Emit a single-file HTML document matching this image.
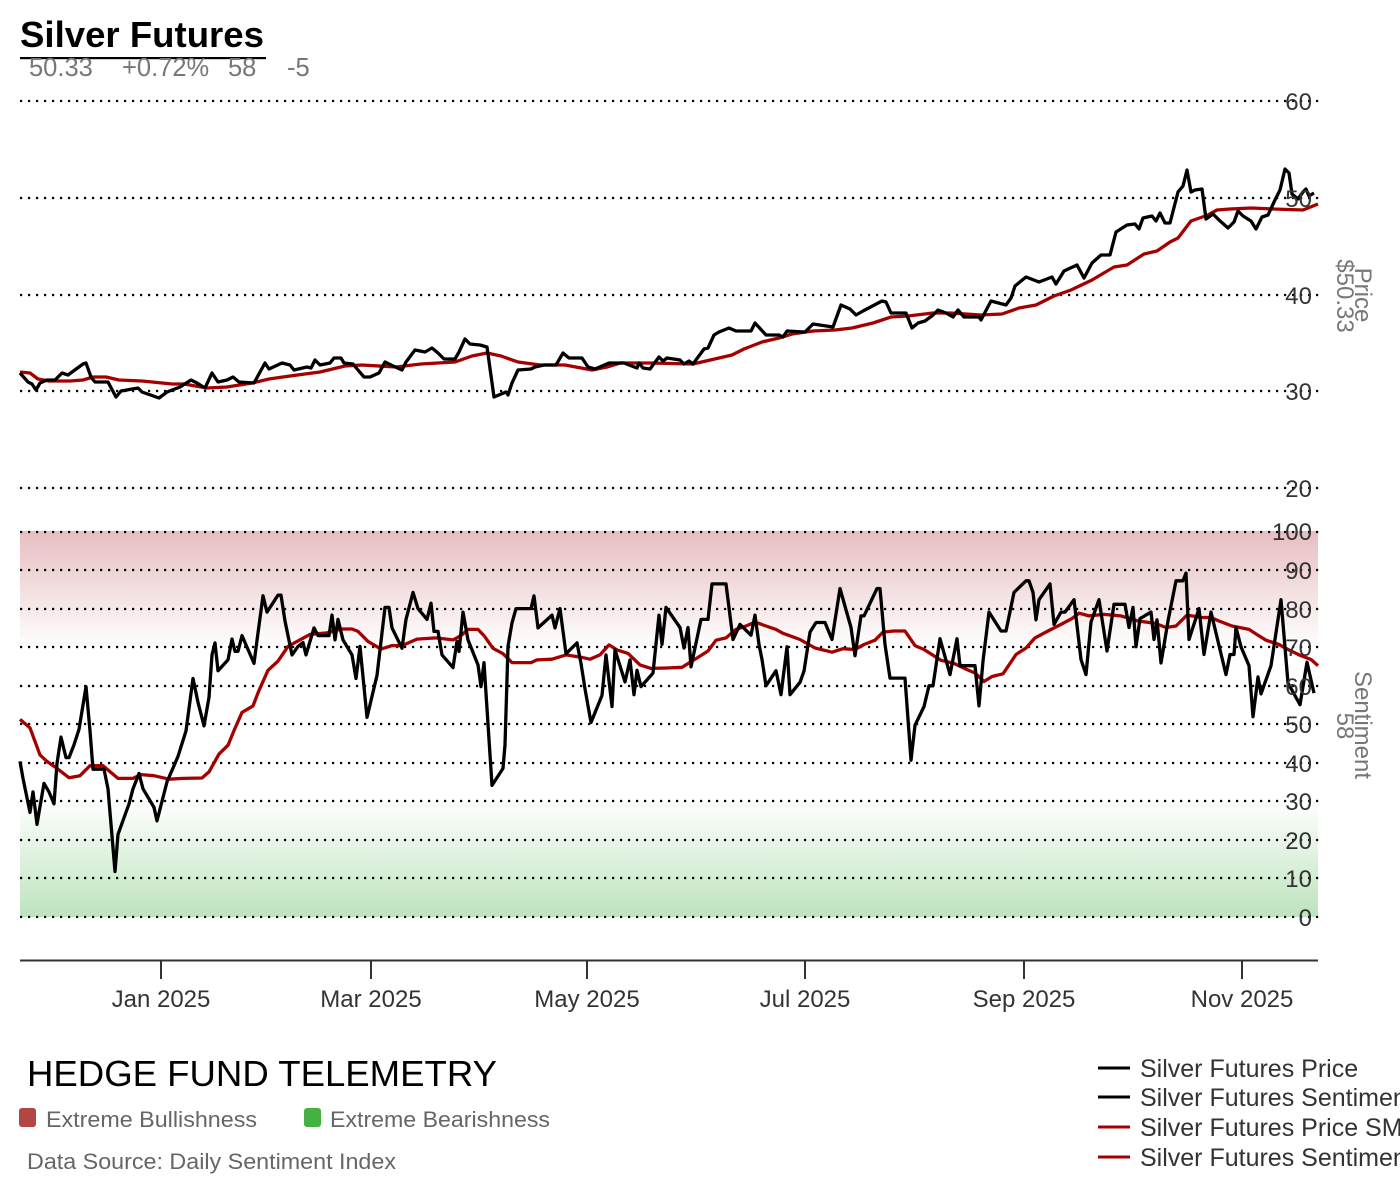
<!DOCTYPE html>
<html><head><meta charset="utf-8"><style>
html,body{margin:0;padding:0;background:#fff;}
svg{display:block;font-family:"Liberation Sans",Arial,sans-serif;}
</style></head><body>
<svg width="1400" height="1200" viewBox="0 0 1400 1200" xmlns="http://www.w3.org/2000/svg">
<defs>
<linearGradient id="gr" x1="0" y1="0" x2="0" y2="1">
<stop offset="0" stop-color="#e6bec0"/><stop offset="1" stop-color="#ffffff"/>
</linearGradient>
<linearGradient id="gg" x1="0" y1="0" x2="0" y2="1">
<stop offset="0" stop-color="#ffffff"/><stop offset="1" stop-color="#bde3bc"/>
</linearGradient>
</defs>
<rect width="1400" height="1200" fill="#fff"/>
<!-- title -->
<text x="20" y="47" font-size="36" font-weight="bold" fill="#000" textLength="244" lengthAdjust="spacingAndGlyphs">Silver Futures</text>
<rect x="20" y="57" width="246" height="2.2" fill="#000"/>
<g font-size="25.5" fill="#777">
<text x="29" y="76">50.33</text>
<text x="122" y="76">+0.72%</text>
<text x="228" y="76">58</text>
<text x="287" y="76">-5</text>
</g>
<!-- bands -->
<rect x="20" y="531" width="1298" height="117" fill="url(#gr)"/>
<rect x="20" y="801" width="1298" height="116" fill="url(#gg)"/>
<!-- gridlines -->
<g stroke="#000" stroke-width="2.2" stroke-dasharray="2.2 5.8">
<line x1="20" y1="101" x2="1320" y2="101"/>
<line x1="20" y1="198" x2="1320" y2="198"/>
<line x1="20" y1="295" x2="1320" y2="295"/>
<line x1="20" y1="391" x2="1320" y2="391"/>
<line x1="20" y1="488" x2="1320" y2="488"/>
<line x1="20" y1="532" x2="1320" y2="532"/>
<line x1="20" y1="570" x2="1320" y2="570"/>
<line x1="20" y1="609" x2="1320" y2="609"/>
<line x1="20" y1="647" x2="1320" y2="647"/>
<line x1="20" y1="686" x2="1320" y2="686"/>
<line x1="20" y1="724" x2="1320" y2="724"/>
<line x1="20" y1="763" x2="1320" y2="763"/>
<line x1="20" y1="801" x2="1320" y2="801"/>
<line x1="20" y1="840" x2="1320" y2="840"/>
<line x1="20" y1="878" x2="1320" y2="878"/>
<line x1="20" y1="917" x2="1320" y2="917"/>
</g>
<!-- price series -->
<polyline fill="none" stroke="#a50000" stroke-width="3.3" stroke-linejoin="round" points="20,372 30,373 38,379 49,381 70,381 83,380 93,377 106,377 119,380 142,381 172,384 184,384 207,388 227,387 252,383 269,379 290,376 320,372 345,366 362,365 396,367 421,364 455,362 472,356 487,353 501,356 518,362 540,365 565,365 592,370 607,367 620,363 650,363 693,364 706,361 719,358 732,355 744,349 762,342 779,338 792,334 813,331 835,330 852,328 873,323 891,317 908,316 933,313 951,313 981,315 1002,314 1019,308 1036,305 1054,296 1071,290 1092,280 1114,267 1127,265 1144,254 1157,251 1170,242 1178,238 1191,221 1208,215 1217,210 1230,209 1251,208 1273,209 1303,210 1318,204"/>
<polyline fill="none" stroke="#000" stroke-width="3.3" stroke-linejoin="round" points="20,373 28,382 32,384 36,390 40,383 47,380 55,380 62,373 68,375 83,364 86,363 91,377 95,382 108,382 116,397 121,391 138,388 142,392 159,398 167,392 180,387 191,380 197,383 205,388 212,373 218,382 227,380 233,377 239,382 254,383 265,363 269,369 282,363 290,365 294,370 307,367 311,368 315,360 320,365 330,363 334,358 341,358 344,363 353,364 358,370 364,377 370,377 379,373 385,362 391,365 402,370 406,362 415,350 425,352 432,348 438,353 444,359 455,359 459,352 465,339 470,344 480,345 487,347 494,397 506,392 508,395 512,383 518,370 531,369 535,367 544,365 556,365 563,353 569,358 582,358 588,367 595,369 609,363 616,363 624,363 637,368 639,363 643,368 650,369 659,357 663,361 667,358 680,360 684,364 689,361 693,364 704,349 708,348 714,335 719,332 729,328 736,331 751,331 755,323 766,335 779,335 783,337 787,331 805,332 813,324 833,327 841,305 850,309 856,315 863,311 882,301 886,302 891,313 906,313 912,328 918,323 925,321 933,315 938,310 946,313 953,317 958,310 964,317 979,317 981,320 991,301 1006,305 1011,298 1015,286 1026,277 1039,282 1052,277 1056,284 1064,271 1077,265 1084,278 1092,263 1101,255 1110,255 1116,232 1127,225 1135,224 1139,229 1143,218 1152,216 1156,221 1160,213 1165,223 1170,223 1178,192 1183,186 1187,170 1191,192 1195,190 1202,189 1206,219 1213,214 1219,220 1228,228 1234,222 1238,211 1243,216 1251,221 1256,229 1262,217 1268,215 1275,200 1280,190 1285,169 1289,173 1292,194 1298,199 1303,192 1306,189 1309,196 1314,193"/>
<!-- sentiment series -->
<polyline fill="none" stroke="#a50000" stroke-width="3.3" stroke-linejoin="round" points="20,719.4 30,727.9 40,754.9 47,761.4 57,768.4 69,777.7 80,775.7 90,765.7 103,765.7 118,778.4 133,778.4 141,774.6 154,775.7 169,779.2 183,778.4 202,778 209,771.9 219,754.1 228,745.2 234,730.6 242,712.4 253,705.9 259,690.4 268,670.3 278,661.1 288,646.4 295,642.6 310,634.4 327,632.9 341,629 352,629 358,631.4 368,641.4 381,649.1 392,645.6 402,645.6 417,639.1 436,637.9 453,639.9 461,635.6 468,629.4 478,629.4 484,635.6 493,648.3 503,653.7 512,662.6 531,662.6 537,659.9 552,659.2 566,654.9 581,657.2 590,659.2 600,654.9 609,644.9 617,649.9 628,653.4 640,664.9 651,668.4 667,668 682,667.3 697,658 708,651 716,640.2 726,637.9 736,629.4 746,626 755,622.1 766,626 776,629.4 783,633.3 800,639.5 815,648 832,652.2 843,648.7 855,649.5 864,644.5 875,640.2 883,632.1 894,631 905,631 915,645.6 924,649.5 941,660.3 954,663.4 967,669.6 975,673 984,681.5 992,676.5 1003,673.8 1016,654.5 1026,648 1035,637.9 1048,631 1061,624.4 1072,618.6 1079,613.2 1089,615.9 1104,614.4 1121,615.9 1138,621 1155,623.3 1166,627.5 1176,626 1187,615.1 1202,617.5 1211,617.5 1219,621 1232,626 1249,629.4 1258,635.2 1266,640.2 1279,644.5 1288,649.5 1301,655.7 1311,659.5 1318,665.7"/>
<polyline fill="none" stroke="#000" stroke-width="3.3" stroke-linejoin="round" points="20,761.4 23,778.4 30,812.4 33,791.9 37,824.4 39,812.4 44,783.4 49,791.9 54,803.9 57,763.4 61,737.1 66,757.6 69,757.6 74,744.8 79,729.4 86,686.6 90,730.9 93,769.2 104,769.2 108,788.8 115,871.5 118,834.4 129,803.9 133,788.8 139,773.4 143,788.8 154,807.4 157,820.9 167,781.9 178,756.4 186,730.9 193,678.5 198,702.4 204,725.9 209,697.4 212,654.9 215,642.9 218,670.7 228,659.9 232,639.1 235,651.4 238,651.4 242,635.6 254,663.4 258,632.9 263,595.8 267,612.1 278,595.1 281,595.1 285,621 292,654.9 298,646.4 303,642.6 306,654.9 314,627.9 318,635.6 329,635.6 332,615.1 335,639.9 338,619.4 343,639.9 352,654.9 356,678.5 360,646.4 367,717.4 377,675.4 385,607.4 389,607.4 392,627.9 402,648.3 406,619.4 413,592.4 418,608.6 427,619.4 431,603.2 434,631.4 438,631.4 442,654.9 453,667.6 457,641.4 459,651.4 463,612.1 468,639.9 478,664.9 481,686.6 484,662.6 492,785.4 503,768.4 505,744.8 508,646.4 512,622.9 516,608.6 531,608.6 534,595.8 538,627.9 552,615.1 555,627.9 560,608.6 566,653.7 577,642.9 581,663.4 585,688.9 591,722.5 602,695.4 606,654.9 612,706.6 615,649.9 625,681.9 630,659.9 634,694.7 637,670.3 641,686.6 651,675.4 653,673 659,615.1 662,644.5 666,607.4 680,627.5 684,648 688,627.5 691,666.9 701,619.4 708,619.4 712,583.9 726,583.9 733,639.5 740,624.4 751,635.2 755,615.1 759,644.5 762,659.5 766,685.8 776,670.7 781,694.7 787,646.8 790,694.7 800,682.3 804,671.1 810,632.1 816,622.5 825,622.5 832,639.5 840,588.5 851,627.5 855,655.7 861,615.9 864,615.9 877,588.5 880,588.5 885,644.5 890,678.1 905,678.1 911,760.3 915,725.2 924,706.6 929,685.8 933,685.8 940,638.7 950,674.6 957,638.7 960,665.7 975,665.7 979,705.9 983,661.1 989,612.1 1001,631 1006,631 1014,592.4 1026,580.8 1029,580.8 1033,592.4 1036,619.8 1039,599.7 1050,583.9 1054,624.4 1061,612.1 1065,612.1 1074,599.7 1081,659.5 1086,674.6 1091,622.1 1099,599.7 1107,651 1114,604.3 1125,604.3 1129,627.5 1133,607.4 1136,646.8 1140,618.6 1151,612.1 1154,639.5 1157,619.8 1161,663 1168,621 1176,580.8 1183,580.8 1186,573.1 1189,639.5 1199,608.6 1204,654.5 1211,612.1 1226,674.6 1230,654.5 1234,654.5 1236,627.5 1241,646.8 1249,665.7 1253,716.7 1258,676.9 1261,693.9 1271,665.7 1281,599.7 1288,683.1 1300,704.7 1307,662.2 1314,693.1"/>
<!-- axis labels -->
<g font-size="24" fill="#333" text-anchor="end">
<text x="1312" y="110">60</text>
<text x="1312" y="207">50</text>
<text x="1312" y="304">40</text>
<text x="1312" y="400">30</text>
<text x="1312" y="497">20</text>
<text x="1312" y="540">100</text>
<text x="1312" y="579">90</text>
<text x="1312" y="618">80</text>
<text x="1312" y="656">70</text>
<text x="1312" y="695">60</text>
<text x="1312" y="733">50</text>
<text x="1312" y="772">40</text>
<text x="1312" y="810">30</text>
<text x="1312" y="849">20</text>
<text x="1312" y="887">10</text>
<text x="1312" y="926">0</text>
</g>
<g font-size="24" fill="#777" text-anchor="middle">
<text transform="translate(1355,295) rotate(90)">Price</text>
<text transform="translate(1337,296) rotate(90)">$50.33</text>
<text transform="translate(1355,725) rotate(90)">Sentiment</text>
<text transform="translate(1337,726) rotate(90)">58</text>
</g>
<!-- x axis -->
<line x1="20" y1="960.5" x2="1318" y2="960.5" stroke="#333" stroke-width="2"/>
<g stroke="#333" stroke-width="2">
<line x1="161" y1="960" x2="161" y2="979"/>
<line x1="371" y1="960" x2="371" y2="979"/>
<line x1="587" y1="960" x2="587" y2="979"/>
<line x1="805" y1="960" x2="805" y2="979"/>
<line x1="1024" y1="960" x2="1024" y2="979"/>
<line x1="1242" y1="960" x2="1242" y2="979"/>
</g>
<g font-size="24" fill="#333" text-anchor="middle">
<text x="161" y="1007">Jan 2025</text>
<text x="371" y="1007">Mar 2025</text>
<text x="587" y="1007">May 2025</text>
<text x="805" y="1007">Jul 2025</text>
<text x="1024" y="1007">Sep 2025</text>
<text x="1242" y="1007">Nov 2025</text>
</g>
<!-- footer -->
<text x="27" y="1086" font-size="36" fill="#000" textLength="470" lengthAdjust="spacingAndGlyphs">HEDGE FUND TELEMETRY</text>
<rect x="19" y="1108" width="17" height="19" rx="3" fill="#b34545"/>
<rect x="304" y="1108" width="17" height="19" rx="3" fill="#43b243"/>
<g font-size="22" fill="#666">
<text x="46" y="1127" textLength="211" lengthAdjust="spacingAndGlyphs">Extreme Bullishness</text>
<text x="330" y="1127" textLength="220" lengthAdjust="spacingAndGlyphs">Extreme Bearishness</text>
<text x="27" y="1169" textLength="369" lengthAdjust="spacingAndGlyphs">Data Source: Daily Sentiment Index</text>
</g>
<!-- legend -->
<g stroke-width="3">
<line x1="1098" y1="1068" x2="1130" y2="1068" stroke="#000"/>
<line x1="1098" y1="1097" x2="1130" y2="1097" stroke="#000"/>
<line x1="1098" y1="1127" x2="1130" y2="1127" stroke="#a50000"/>
<line x1="1098" y1="1157" x2="1130" y2="1157" stroke="#a50000"/>
</g>
<g font-size="25" fill="#333">
<text x="1140" y="1077">Silver Futures Price</text>
<text x="1140" y="1106">Silver Futures Sentiment</text>
<text x="1140" y="1136">Silver Futures Price SMA</text>
<text x="1140" y="1166">Silver Futures Sentiment SMA</text>
</g>
</svg>
</body></html>
